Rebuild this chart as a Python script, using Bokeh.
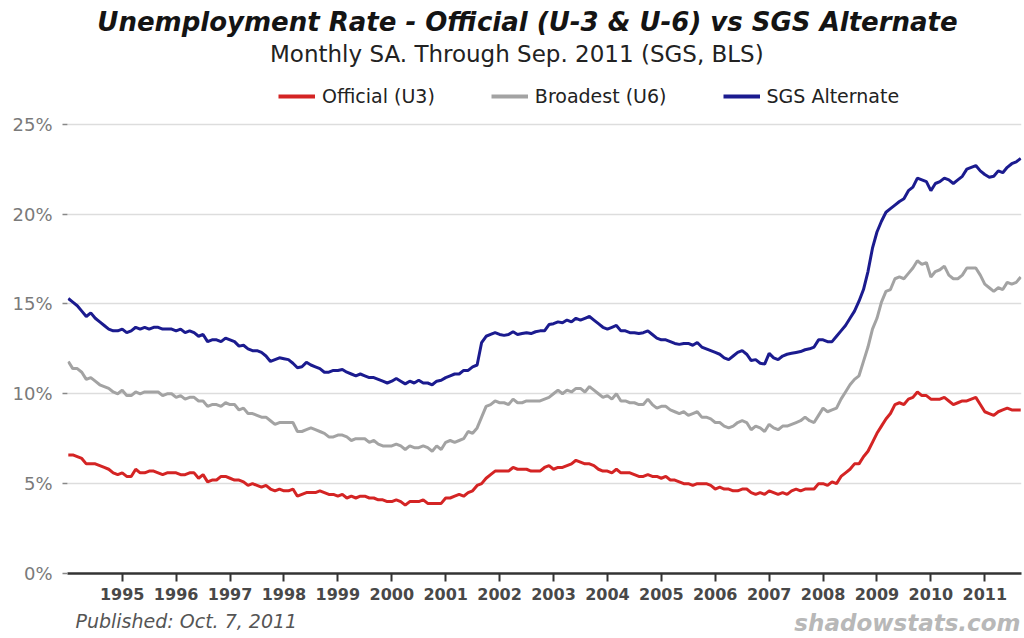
from bokeh.plotting import figure
from bokeh.layouts import column
from bokeh.models import Range1d, Label, Legend, LegendItem, FixedTicker
from bokeh.embed import file_html
from bokeh.resources import INLINE

# ---- data (monthly, Jan 1994 .. Sep 2011) ----
START_YEAR = 1994

u3_official = [
    6.6, 6.6, 6.5, 6.4, 6.1, 6.1, 6.1, 6.0, 5.9, 5.8, 5.6, 5.5,   # 1994
    5.6, 5.4, 5.4, 5.8, 5.6, 5.6, 5.7, 5.7, 5.6, 5.5, 5.6, 5.6,   # 1995
    5.6, 5.5, 5.5, 5.6, 5.6, 5.3, 5.5, 5.1, 5.2, 5.2, 5.4, 5.4,   # 1996
    5.3, 5.2, 5.2, 5.1, 4.9, 5.0, 4.9, 4.8, 4.9, 4.7, 4.6, 4.7,   # 1997
    4.6, 4.6, 4.7, 4.3, 4.4, 4.5, 4.5, 4.5, 4.6, 4.5, 4.4, 4.4,   # 1998
    4.3, 4.4, 4.2, 4.3, 4.2, 4.3, 4.3, 4.2, 4.2, 4.1, 4.1, 4.0,   # 1999
    4.0, 4.1, 4.0, 3.8, 4.0, 4.0, 4.0, 4.1, 3.9, 3.9, 3.9, 3.9,   # 2000
    4.2, 4.2, 4.3, 4.4, 4.3, 4.5, 4.6, 4.9, 5.0, 5.3, 5.5, 5.7,   # 2001
    5.7, 5.7, 5.7, 5.9, 5.8, 5.8, 5.8, 5.7, 5.7, 5.7, 5.9, 6.0,   # 2002
    5.8, 5.9, 5.9, 6.0, 6.1, 6.3, 6.2, 6.1, 6.1, 6.0, 5.8, 5.7,   # 2003
    5.7, 5.6, 5.8, 5.6, 5.6, 5.6, 5.5, 5.4, 5.4, 5.5, 5.4, 5.4,   # 2004
    5.3, 5.4, 5.2, 5.2, 5.1, 5.0, 5.0, 4.9, 5.0, 5.0, 5.0, 4.9,   # 2005
    4.7, 4.8, 4.7, 4.7, 4.6, 4.6, 4.7, 4.7, 4.5, 4.4, 4.5, 4.4,   # 2006
    4.6, 4.5, 4.4, 4.5, 4.4, 4.6, 4.7, 4.6, 4.7, 4.7, 4.7, 5.0,   # 2007
    5.0, 4.9, 5.1, 5.0, 5.4, 5.6, 5.8, 6.1, 6.1, 6.5, 6.8, 7.3,   # 2008
    7.8, 8.2, 8.6, 8.9, 9.4, 9.5, 9.4, 9.7, 9.8, 10.1, 9.9, 9.9,  # 2009
    9.7, 9.7, 9.7, 9.8, 9.6, 9.4, 9.5, 9.6, 9.6, 9.7, 9.8, 9.4,   # 2010
    9.0, 8.9, 8.8, 9.0, 9.1, 9.2, 9.1, 9.1, 9.1,                  # 2011
]

u6_broadest = [
    11.8, 11.4, 11.4, 11.2, 10.8, 10.9, 10.7, 10.5, 10.4, 10.3, 10.1, 10.0,  # 1994
    10.2, 9.9, 9.9, 10.1, 10.0, 10.1, 10.1, 10.1, 10.1, 9.9, 10.0, 10.0,     # 1995
    9.8, 9.9, 9.7, 9.8, 9.8, 9.6, 9.6, 9.3, 9.4, 9.4, 9.3, 9.5,              # 1996
    9.4, 9.4, 9.1, 9.2, 8.9, 8.9, 8.8, 8.7, 8.7, 8.5, 8.3, 8.4,              # 1997
    8.4, 8.4, 8.4, 7.9, 7.9, 8.0, 8.1, 8.0, 7.9, 7.8, 7.6, 7.6,              # 1998
    7.7, 7.7, 7.6, 7.4, 7.5, 7.5, 7.5, 7.3, 7.4, 7.2, 7.1, 7.1,              # 1999
    7.1, 7.2, 7.1, 6.9, 7.1, 7.0, 7.0, 7.1, 7.0, 6.8, 7.1, 6.9,              # 2000
    7.3, 7.4, 7.3, 7.4, 7.5, 7.9, 7.8, 8.1, 8.7, 9.3, 9.4, 9.6,              # 2001
    9.5, 9.5, 9.4, 9.7, 9.5, 9.5, 9.6, 9.6, 9.6, 9.6, 9.7, 9.8,              # 2002
    10.0, 10.2, 10.0, 10.2, 10.1, 10.3, 10.3, 10.1, 10.4, 10.2, 10.0, 9.8,   # 2003
    9.9, 9.7, 10.0, 9.6, 9.6, 9.5, 9.5, 9.4, 9.4, 9.7, 9.4, 9.2,             # 2004
    9.3, 9.3, 9.1, 9.0, 8.9, 9.0, 8.8, 8.9, 9.0, 8.7, 8.7, 8.6,              # 2005
    8.4, 8.4, 8.2, 8.1, 8.2, 8.4, 8.5, 8.4, 8.0, 8.2, 8.1, 7.9,              # 2006
    8.3, 8.1, 8.0, 8.2, 8.2, 8.3, 8.4, 8.5, 8.7, 8.5, 8.4, 8.8,              # 2007
    9.2, 9.0, 9.1, 9.2, 9.7, 10.1, 10.5, 10.8, 11.0, 11.8, 12.6, 13.6,       # 2008
    14.2, 15.1, 15.7, 15.8, 16.4, 16.5, 16.4, 16.7, 17.0, 17.4, 17.2, 17.3,  # 2009
    16.5, 16.8, 16.9, 17.1, 16.6, 16.4, 16.4, 16.6, 17.0, 17.0, 17.0, 16.6,  # 2010
    16.1, 15.9, 15.7, 15.9, 15.8, 16.2, 16.1, 16.2, 16.5,                    # 2011
]

sgs_alternate = [
    15.3, 15.1, 14.9, 14.6, 14.3, 14.5, 14.2, 14.0, 13.8, 13.6, 13.5, 13.5,  # 1994
    13.6, 13.4, 13.5, 13.7, 13.6, 13.7, 13.6, 13.7, 13.7, 13.6, 13.6, 13.6,  # 1995
    13.5, 13.6, 13.4, 13.5, 13.4, 13.2, 13.3, 12.9, 13.0, 13.0, 12.9, 13.1,  # 1996
    13.0, 12.9, 12.65, 12.7, 12.5, 12.4, 12.4, 12.3, 12.1, 11.8, 11.9, 12.0, # 1997
    11.95, 11.9, 11.7, 11.45, 11.5, 11.75, 11.6, 11.5, 11.4, 11.2, 11.2, 11.3,  # 1998
    11.3, 11.35, 11.2, 11.1, 11.0, 11.1, 11.0, 10.9, 10.9, 10.8, 10.7, 10.6, # 1999
    10.7, 10.85, 10.7, 10.55, 10.7, 10.6, 10.75, 10.6, 10.6, 10.5, 10.7, 10.75,  # 2000
    10.9, 11.0, 11.1, 11.1, 11.3, 11.3, 11.5, 11.6, 12.85, 13.2, 13.3, 13.4, # 2001
    13.3, 13.25, 13.3, 13.45, 13.3, 13.35, 13.4, 13.35, 13.45, 13.5, 13.5, 13.85,  # 2002
    13.9, 14.0, 13.95, 14.1, 14.0, 14.2, 14.1, 14.2, 14.3, 14.1, 13.9, 13.7, # 2003
    13.6, 13.7, 13.8, 13.5, 13.5, 13.4, 13.4, 13.35, 13.4, 13.5, 13.3, 13.1, # 2004
    13.0, 13.0, 12.9, 12.8, 12.75, 12.8, 12.8, 12.7, 12.85, 12.6, 12.5, 12.4,  # 2005
    12.3, 12.2, 12.0, 11.9, 12.1, 12.3, 12.4, 12.2, 11.85, 11.9, 11.7, 11.65,  # 2006
    12.25, 12.0, 11.9, 12.1, 12.2, 12.25, 12.3, 12.35, 12.45, 12.5, 12.6, 13.0,  # 2007
    13.0, 12.9, 12.9, 13.2, 13.5, 13.8, 14.2, 14.6, 15.15, 15.8, 16.8, 18.1, # 2008
    19.0, 19.6, 20.1, 20.3, 20.5, 20.7, 20.85, 21.3, 21.5, 22.0, 21.9, 21.8, # 2009
    21.3, 21.7, 21.8, 22.0, 21.9, 21.7, 21.9, 22.1, 22.5, 22.6, 22.7, 22.4,  # 2010
    22.2, 22.05, 22.1, 22.4, 22.3, 22.6, 22.8, 22.9, 23.1,                   # 2011
]

year_ticks = list(range(1995, 2012))
pct_ticks = [0, 5, 10, 15, 20, 25]
series_names = ["Official (U3)", "Broadest (U6)", "SGS Alternate"]
series_colors = ["#d42424", "#a3a3a3", "#1b1b8f"]

title_text = "Unemployment Rate - Official (U-3 & U-6) vs SGS Alternate"
subtitle_text = "Monthly SA. Through Sep. 2011  (SGS, BLS)"
published_text = "Published: Oct. 7, 2011"
brand_text = "shadowstats.com"

months = [START_YEAR + i / 12 for i in range(len(u3_official))]
all_series = [u3_official, u6_broadest, sgs_alternate]

FONT = "DejaVu Sans"
W = 1024
LEFT = 67
RIGHT = 3
HEAD_H = 112
FOOT_H = 30
MAIN_H = 638 - HEAD_H - FOOT_H


def blank(h):
    # header/footer strip whose data units equal canvas pixels
    f = figure(width=W, height=h, output_backend="svg", toolbar_location=None,
               x_range=Range1d(LEFT, W - RIGHT), y_range=Range1d(0, h),
               min_border_left=LEFT, min_border_right=RIGHT,
               min_border_top=0, min_border_bottom=0, title=None)
    f.axis.visible = False
    f.grid.visible = False
    f.outline_line_color = None
    f.background_fill_color = "white"
    f.border_fill_color = "white"
    return f


# ---- header: title, subtitle, legend ----
head = blank(HEAD_H)
head.add_layout(Label(x=527, y=HEAD_H - 21, text=title_text,
                      text_align="center", text_baseline="middle", text_font=FONT,
                      text_font_style="bold italic", text_font_size="26px",
                      text_color="#141414"))
head.add_layout(Label(x=520, y=HEAD_H - 53, text=subtitle_text,
                      text_align="center", text_baseline="middle", text_font=FONT,
                      text_font_size="23px", text_color="#222222"))
# legend keys: same series drawn in the header, outside its visible range
key_renderers = [head.line(months, vals, line_color=c, line_width=4)
                 for vals, c in zip(all_series, series_colors)]
legend = Legend(items=[LegendItem(label=n, renderers=[r]) for n, r in zip(series_names, key_renderers)],
                orientation="horizontal", location=(278 - LEFT, 5),
                glyph_width=37, glyph_height=20, label_standoff=7, spacing=56,
                padding=0, margin=0, border_line_color=None, background_fill_alpha=0,
                label_text_font=FONT, label_text_font_size="19px",
                label_text_color="#222222")
head.add_layout(legend, "center")

# ---- main chart ----
p = figure(width=W, height=MAIN_H, output_backend="svg", toolbar_location=None,
           x_range=Range1d(1993.985, 2011.681), y_range=Range1d(0, 25.65),
           min_border_left=LEFT, min_border_right=RIGHT, min_border_top=0,
           min_border_bottom=35, title=None)
p.outline_line_color = None
p.background_fill_color = "white"
p.border_fill_color = "white"

p.xaxis.ticker = FixedTicker(ticks=year_ticks)
p.xaxis.major_label_overrides = {y: str(y) for y in year_ticks}
p.xaxis.axis_line_color = "#333333"
p.xaxis.axis_line_width = 2.5
p.xaxis.major_tick_line_color = "#333333"
p.xaxis.major_tick_line_width = 2
p.xaxis.major_tick_in = 0
p.xaxis.major_tick_out = 8
p.xaxis.minor_tick_line_color = None
p.xaxis.major_label_standoff = 6
p.xaxis.major_label_text_font = FONT
p.xaxis.major_label_text_font_style = "bold"
p.xaxis.major_label_text_font_size = "16px"
p.xaxis.major_label_text_color = "#484848"

p.yaxis.ticker = FixedTicker(ticks=pct_ticks)
p.yaxis.major_label_overrides = {v: f"{v}%" for v in pct_ticks}
p.yaxis.axis_line_color = None
p.yaxis.major_tick_line_color = "#888888"
p.yaxis.major_tick_line_width = 1.5
p.yaxis.major_tick_in = 0
p.yaxis.major_tick_out = 5
p.yaxis.minor_tick_line_color = None
p.yaxis.major_label_standoff = 10
p.yaxis.major_label_text_font = FONT
p.yaxis.major_label_text_font_size = "18px"
p.yaxis.major_label_text_color = "#7a7a7a"

p.xgrid.visible = False
p.ygrid.grid_line_color = "#dddddd"
p.ygrid.grid_line_width = 1.5

for vals, color in zip(all_series, series_colors):
    p.line(months, vals, line_color=color, line_width=3)

# ---- footer ----
foot = blank(FOOT_H)
foot.add_layout(Label(x=75, y=FOOT_H - 12, text=published_text,
                      text_align="left", text_baseline="middle", text_font=FONT,
                      text_font_style="italic", text_font_size="19px", text_color="#555555"))
foot.add_layout(Label(x=1020, y=FOOT_H - 14, text=brand_text,
                      text_align="right", text_baseline="middle", text_font=FONT,
                      text_font_style="bold italic", text_font_size="23px", text_color="#b8b8b8"))

layout = column(head, p, foot, spacing=0)
open("out.html", "w").write(file_html(layout, INLINE))
